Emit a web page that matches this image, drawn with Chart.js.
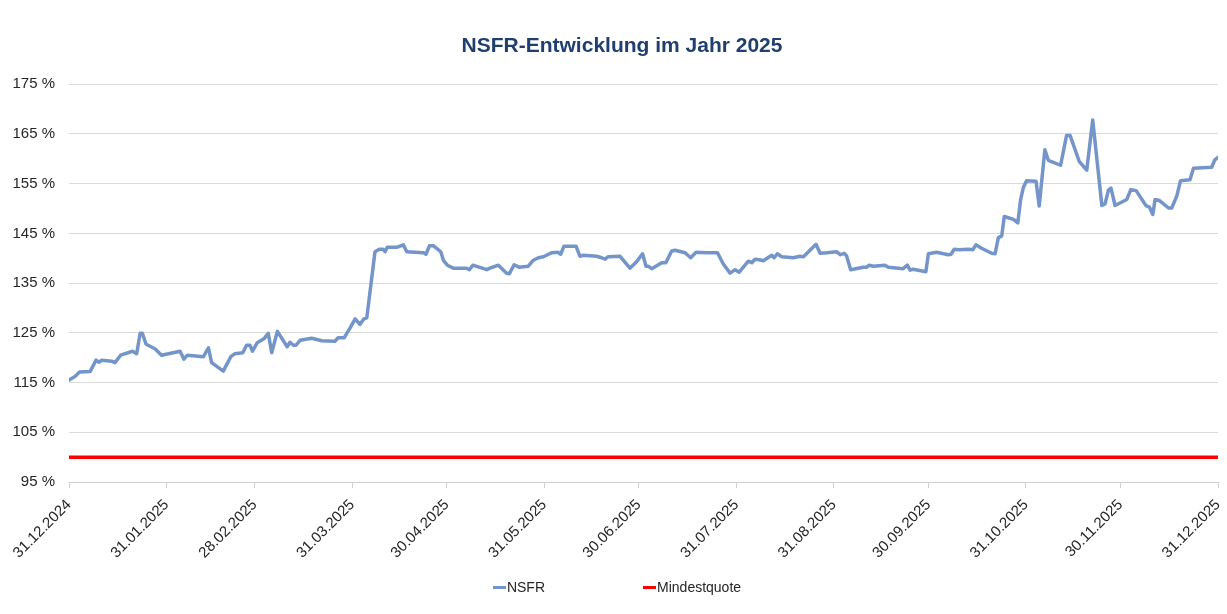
<!DOCTYPE html>
<html lang="de">
<head>
<meta charset="utf-8">
<title>NSFR-Entwicklung im Jahr 2025</title>
<script src="https://cdn.jsdelivr.net/npm/chart.js@4.4.1/dist/chart.umd.min.js"></script>
<style>
  html, body { margin: 0; padding: 0; background: #fff; }
  #wrap { position: relative; width: 1227px; height: 614px; }
  #legend {
    position: absolute; left: 7px; right: 0; top: 579px;
    display: flex; justify-content: center; gap: 98px;
    font-family: "Liberation Sans", Arial, sans-serif; font-size: 14px; color: #262626;
  }
  #legend span.item { display: flex; align-items: center; }
  #legend span.swatch { display: inline-block; width: 13px; height: 3px; margin-right: 1px; }
</style>
</head>
<body>
<div id="wrap">
  <canvas id="chart" width="1227" height="614"></canvas>
  <div id="legend"></div>
</div>
<script>
// days counted from 31.12.2024
const monthEndDays = [0, 31, 59, 90, 120, 151, 181, 212, 243, 273, 304, 334, 365];
const monthEndLabels = ["31.12.2024", "31.01.2025", "28.02.2025", "31.03.2025", "30.04.2025", "31.05.2025",
  "30.06.2025", "31.07.2025", "31.08.2025", "30.09.2025", "31.10.2025", "30.11.2025", "31.12.2025"];

const nsfrDays = [0, 1.9, 3.3, 6.7, 8.6, 9.6, 10.4, 13.6, 14.6, 16.4, 20.2, 21.5, 22.6, 23.3, 24.5, 27.3, 29.4,
  35.3, 36.5, 37.6, 42.7, 44.3, 45.3, 49.0, 51.4, 52.7, 55.2, 56.4, 57.5, 58.3, 59.8, 61.9, 63.3, 64.4, 66.2,
  69.3, 70.2, 71.3, 72.1, 73.4, 77.1, 80.3, 84.5, 85.5, 87.4, 89.3, 90.9, 92.4, 93.7, 94.6, 97.2, 98.6, 99.8,
  100.4, 101.1, 104.1, 106.2, 107.3, 112.6, 113.4, 114.5, 115.8, 118.1, 119.0, 120.2, 122.1, 126.3, 127.2,
  128.3, 132.7, 133.7, 136.4, 139.0, 139.9, 141.4, 143.0, 145.9, 147.5, 149.1, 150.7, 153.3, 155.4, 156.2,
  157.2, 161.1, 162.3, 163.4, 167.6, 169.2, 170.3, 171.3, 175.0, 178.2, 180.3, 182.2, 183.3, 184.0, 185.1,
  188.3, 189.6, 191.4, 192.5, 195.7, 197.5, 199.2, 202.6, 206.0, 207.8, 210.0, 211.6, 212.9, 215.8, 216.9,
  217.9, 219.3, 220.6, 223.2, 224.0, 225.0, 226.4, 230.1, 232.2, 233.3, 237.3, 238.6, 240.7, 243.9, 245.1,
  246.2, 247.0, 248.3, 252.3, 253.4, 254.2, 255.5, 259.2, 260.3, 265.0, 266.3, 267.2, 268.2, 272.2, 273.0,
  275.6, 279.3, 280.2, 281.2, 282.5, 285.7, 287.1, 288.1, 289.9, 293.1, 294.2, 295.2, 296.3, 297.1, 300.0,
  301.4, 302.3, 303.2, 304.2, 307.2, 308.2, 310.0, 311.1, 312.7, 315.0, 316.9, 318.0, 320.9, 323.3, 325.2,
  328.1, 329.1, 330.2, 331.0, 332.3, 336.0, 337.3, 339.0, 342.1, 343.2, 344.3, 345.0, 346.4, 349.3, 350.3,
  351.9, 353.1, 356.1, 357.2, 363.0, 364.0, 365.0];
const nsfrValues = [115.5, 116.2, 117.1, 117.2, 119.5, 119.1, 119.5, 119.3, 119.0, 120.5, 121.3, 120.8, 124.9,
  124.9, 122.7, 121.8, 120.5, 121.3, 119.7, 120.5, 120.2, 122.0, 119.0, 117.3, 120.2, 120.8, 121.0, 122.5,
  122.5, 121.3, 123.0, 123.8, 124.9, 121.0, 125.3, 122.2, 123.1, 122.5, 122.5, 123.5, 123.9, 123.4, 123.3,
  124.0, 124.0, 126.0, 127.8, 126.7, 127.8, 128.0, 141.3, 141.8, 141.8, 141.3, 142.2, 142.2, 142.7, 141.3,
  141.1, 140.8, 142.5, 142.5, 141.3, 139.5, 138.6, 138.0, 138.0, 137.7, 138.6, 137.7, 138.0, 138.6, 137.0,
  136.9, 138.7, 138.2, 138.4, 139.6, 140.1, 140.3, 141.1, 141.2, 140.8, 142.4, 142.4, 140.4, 140.6, 140.4,
  140.1, 139.8, 140.3, 140.4, 138.0, 139.3, 140.9, 138.4, 138.4, 137.9, 139.1, 139.1, 141.4, 141.6, 141.1,
  140.1, 141.2, 141.1, 141.1, 138.9, 137.0, 137.7, 137.2, 139.4, 139.1, 139.8, 139.7, 139.5, 140.6, 140.1,
  140.9, 140.3, 140.1, 140.4, 140.3, 142.8, 141.0, 141.1, 141.3, 140.7, 141.0, 140.5, 137.7, 138.2, 138.2,
  138.6, 138.4, 138.6, 138.2, 137.9, 138.6, 137.6, 137.8, 137.3, 140.9, 141.2, 140.7, 140.8, 141.8, 141.7,
  141.8, 141.7, 142.7, 142.0, 141.0, 140.9, 144.1, 144.5, 148.4, 147.8, 147.1, 151.8, 154.3, 155.6, 155.5,
  150.5, 161.8, 159.7, 159.3, 158.7, 164.7, 164.7, 159.5, 157.7, 167.8, 150.6, 150.9, 153.7, 154.1, 150.6,
  151.8, 153.8, 153.6, 150.6, 150.3, 148.8, 151.8, 151.6, 150.1, 150.1, 152.5, 155.6, 155.8, 158.1, 158.3,
  159.8, 160.3];

const minDays = [0, 365];
const minValues = [100, 100];

const yMin = 95, yMax = 175, yStep = 10;

const font = "'Liberation Sans', Arial, sans-serif";

function toPoints(xs, ys) {
  return xs.map((x, i) => ({ x: x, y: ys[i] }));
}

// the original title sits a bit right of the canvas centre
const titleShift = {
  id: "titleShift",
  afterLayout(chart) {
    if (chart.titleBlock) chart.titleBlock.left += 26;
  }
};

const chart = new Chart(document.getElementById("chart"), {
  type: "line",
  data: {
    datasets: [
      {
        label: "NSFR",
        data: toPoints(nsfrDays, nsfrValues),
        borderColor: "#7395c9",
        backgroundColor: "#7395c9",
        borderWidth: 3.5,
        borderJoinStyle: "round",
        borderCapStyle: "round",
        pointRadius: 0,
        tension: 0
      },
      {
        label: "Mindestquote",
        data: toPoints(minDays, minValues),
        borderColor: "#ff0000",
        backgroundColor: "#ff0000",
        borderWidth: 3.5,
        pointRadius: 0,
        tension: 0
      }
    ]
  },
  options: {
    responsive: false,
    animation: false,
    layout: { padding: { left: 0, right: 9, top: 0, bottom: 47 } },
    plugins: {
      legend: { display: false },
      tooltip: { enabled: false },
      title: {
        display: true,
        text: "NSFR-Entwicklung im Jahr 2025",
        color: "#1f3f6e",
        font: { family: font, size: 21, weight: "bold" },
        padding: { top: 34, bottom: 25 }
      }
    },
    scales: {
      x: {
        type: "linear",
        min: monthEndDays[0],
        max: monthEndDays[monthEndDays.length - 1],
        afterBuildTicks: scale => { scale.ticks = monthEndDays.map(v => ({ value: v })); },
        afterFit: scale => { scale.height = 85; scale.paddingRight = 0; },
        grid: { drawOnChartArea: false, drawTicks: true, tickLength: 6, color: "#d0d0d0" },
        border: { color: "#d0d0d0" },
        ticks: {
          autoSkip: false,
          minRotation: 45,
          maxRotation: 45,
          padding: 8,
          color: "#262626",
          font: { family: font, size: 15 },
          callback: v => monthEndLabels[monthEndDays.indexOf(v)]
        }
      },
      y: {
        min: yMin,
        max: yMax,
        afterFit: scale => { scale.width = 69; },
        grid: { drawTicks: false, color: "#d9d9d9" },
        border: { display: false },
        ticks: {
          stepSize: yStep,
          padding: 14,
          color: "#262626",
          font: { family: font, size: 15 },
          callback: v => v + " %"
        }
      }
    }
  },
  plugins: [titleShift]
});

// legend below the axis, same look as the original
const legendRoot = document.getElementById("legend");
legendRoot.innerHTML = chart.data.datasets.map(ds => `
  <span class="item"><span class="swatch" style="background:${ds.borderColor}"></span>${ds.label}</span>
`).join("");
</script>
</body>
</html>
